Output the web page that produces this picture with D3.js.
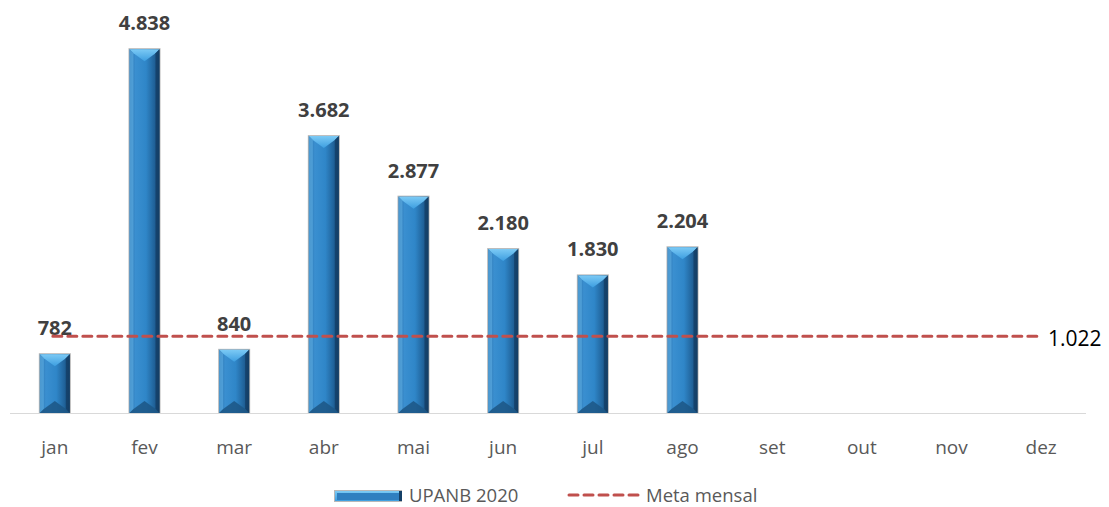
<!DOCTYPE html>
<html><head><meta charset="utf-8">
<script src="https://cdn.jsdelivr.net/npm/d3@7"></script>
<style>body{margin:0;background:#fff;}svg{display:block;font-family:"Open Sans",sans-serif;}</style>
</head><body><svg id="c" width="1109" height="507"></svg>
<script>
const months = ["jan","fev","mar","abr","mai","jun","jul","ago","set","out","nov","dez"];
const values = [782,4838,840,3682,2877,2180,1830,2204,null,null,null,null];
const meta = 1022;
const seriesName = "UPANB 2020";
const metaName = "Meta mensal";
const fmt = v => d3.format(",")(v).replace(/,/g,".");

const svg = d3.select("#c");
const x = d3.scaleBand().domain(months).range([10,1086]);
const y = d3.scaleLinear().domain([0,5000]).range([413,37]);
const bw = 30;

const defs = svg.append("defs");
const g1 = defs.append("linearGradient").attr("id","bar").attr("x1","0").attr("x2","1");
[["0%","#2a6fa8"],["20%","#3a8fd0"],["55%","#2f86c8"],["85%","#1f5f95"],["100%","#123c60"]].forEach(s=>g1.append("stop").attr("offset",s[0]).attr("stop-color",s[1]));
const g2 = defs.append("linearGradient").attr("id","top").attr("x1","0").attr("x2","0").attr("y1","0").attr("y2","1");
[["0%","#7ccaf5"],["100%","#3d9ee0"]].forEach(s=>g2.append("stop").attr("offset",s[0]).attr("stop-color",s[1]));

svg.append("line").attr("x1",10).attr("x2",1086).attr("y1",413.5).attr("y2",413.5).attr("stroke","#d9d9d9").attr("stroke-width",1);

const data = months.map((m,i)=>({m, v: values[i]})).filter(d=>d.v!=null);
const bars = svg.append("g");
data.forEach(d=>{
  const cx = x(d.m)+x.bandwidth()/2;
  const x0 = cx-bw/2, x1 = cx+bw/2, yt = y(d.v), yb = y(0);
  const b = 4, tri = 12;
  const gg = bars.append("g");
  gg.append("rect").attr("x",x0-1).attr("y",yt-1).attr("width",bw+2).attr("height",yb-yt+1).attr("fill","#b8b8b8");
  gg.append("rect").attr("x",x0).attr("y",yt).attr("width",bw).attr("height",yb-yt).attr("fill","url(#bar)");
  gg.append("path").attr("d",`M${x0},${yt}L${x1},${yt}L${x1-b},${yt+b}L${cx},${yt+tri}L${x0+b},${yt+b}Z`).attr("fill","url(#top)");
  gg.append("path").attr("d",`M${x1},${yt}L${x1},${yb}L${x1-b},${yb-b}L${x1-b},${yt+b}Z`).attr("fill","#143f66").attr("opacity",0.8);
  gg.append("path").attr("d",`M${x0},${yt}L${x0+b},${yt+b}L${x0+b},${yb-b}L${x0},${yb}Z`).attr("fill","#5aa9e0").attr("opacity",0.7);
  gg.append("path").attr("d",`M${x0},${yb}L${x1},${yb}L${x1-b},${yb-b}L${cx},${yb-tri}L${x0+b},${yb-b}Z`).attr("fill","#1c5685").attr("opacity",0.85);
  svg.append("text").attr("x",cx).attr("y",yt-19).attr("text-anchor","middle")
    .attr("font-size",20).attr("font-weight","bold").attr("fill","#404040").text(fmt(d.v));
});

const c0 = x(months[0])+x.bandwidth()/2, c1 = x(months[11])+x.bandwidth()/2;
svg.append("line").attr("x1",c0-2).attr("x2",c1).attr("y1",y(meta)).attr("y2",y(meta))
  .attr("stroke","#c0504d").attr("stroke-width",3).attr("stroke-dasharray","9,6").attr("stroke-linecap","round");
svg.append("text").attr("x",1048).attr("y",y(meta)+10).attr("font-size",21).attr("fill","#000").text(fmt(meta));

svg.append("g").selectAll("text").data(months).join("text")
  .attr("x",d=>x(d)+x.bandwidth()/2).attr("y",454).attr("text-anchor","middle")
  .attr("font-size",19).attr("fill","#595959").text(d=>d);

const lg = svg.append("g");
lg.append("rect").attr("x",334).attr("y",490).attr("width",68).attr("height",12).attr("fill","#b8b8b8");
lg.append("rect").attr("x",335).attr("y",491).attr("width",66).attr("height",10).attr("fill","url(#top)");
lg.append("rect").attr("x",337).attr("y",493).attr("width",62).attr("height",7).attr("fill","#2f7fc0");
lg.append("rect").attr("x",399).attr("y",491).attr("width",3).attr("height",10).attr("fill","#143f66");
lg.append("text").attr("x",409).attr("y",502).attr("font-size",18.5).attr("fill","#595959").text(seriesName);
lg.append("line").attr("x1",569).attr("x2",640).attr("y1",495).attr("y2",495)
  .attr("stroke","#c0504d").attr("stroke-width",3).attr("stroke-dasharray","9,6").attr("stroke-linecap","round");
lg.append("text").attr("x",646).attr("y",502).attr("font-size",18.5).attr("fill","#595959").text(metaName);
</script></body></html>
